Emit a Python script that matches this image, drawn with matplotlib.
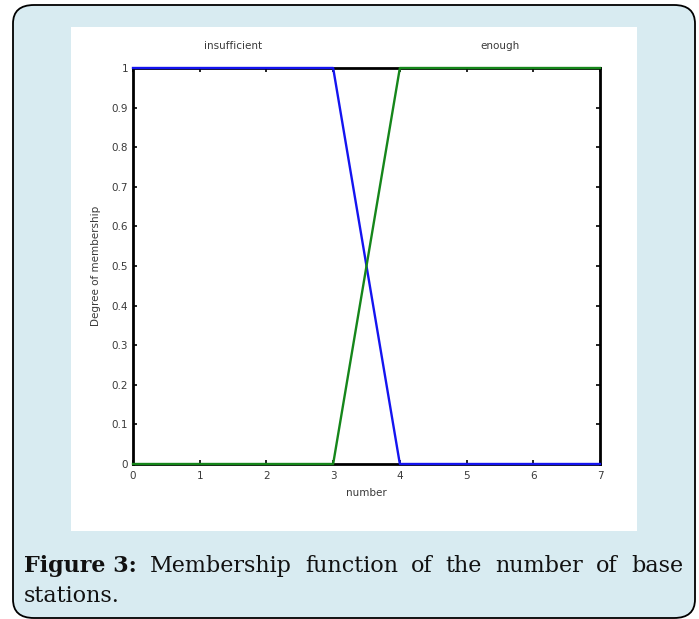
import matplotlib
matplotlib.use("Agg")
import matplotlib.pyplot as plt
from matplotlib.patches import FancyBboxPatch, Rectangle

# ---- data ----
x_insufficient = [0, 3, 4, 7]
y_insufficient = [1, 1, 0, 0]
x_enough = [0, 3, 4, 7]
y_enough = [0, 0, 1, 1]
mf_names = ["insufficient", "enough"]
mf_label_x = [1.5, 5.5]
x_ticks = [0, 1, 2, 3, 4, 5, 6, 7]
y_ticks = [0, 0.1, 0.2, 0.3, 0.4, 0.5, 0.6, 0.7, 0.8, 0.9, 1]
y_tick_labels = ["0", "0.1", "0.2", "0.3", "0.4", "0.5", "0.6", "0.7", "0.8", "0.9", "1"]
caption_bold = "Figure 3:"
caption_words = ["Membership", "function", "of", "the", "number", "of", "base"]
caption_line2 = "stations."

W, H = 699, 619
fig = plt.figure(figsize=(W / 100, H / 100), dpi=100)
fig.patch.set_facecolor("white")

def fx(px):
    return px / W

def fy(py):
    return 1 - py / H

# outer rounded box
bg = FancyBboxPatch((fx(13), fy(618)), fx(695) - fx(13), fy(5) - fy(618),
                    boxstyle="round,pad=0,rounding_size=0.03",
                    transform=fig.transFigure, facecolor="#d8ebf1",
                    edgecolor="black", linewidth=1.3, zorder=0)
fig.patches.append(bg)
# white inner panel
panel = Rectangle((fx(71), fy(531)), fx(637) - fx(71), fy(27) - fy(531),
                  transform=fig.transFigure, facecolor="white",
                  edgecolor="none", zorder=1)
fig.patches.append(panel)

lab_fs = 7.5
lab_col = "#3a3a3a"
ax = fig.add_axes([fx(133), fy(464), fx(600) - fx(133), fy(68) - fy(464)])
ax.set_zorder(2)
ax.set_facecolor("white")
ax.plot(x_insufficient, y_insufficient, color="#1414f0", lw=1.7, clip_on=False, zorder=3)
ax.plot(x_enough, y_enough, color="#15861a", lw=1.7, clip_on=False, zorder=4)
ax.set_xlim(0, 7)
ax.set_ylim(0, 1)
ax.set_xticks(x_ticks)
ax.set_xticklabels([str(v) for v in x_ticks])
ax.set_yticks(y_ticks)
ax.set_yticklabels(y_tick_labels)
ax.tick_params(direction="in", length=3, width=1.2, top=True, right=True,
               labelsize=lab_fs, labelcolor=lab_col)
ax.tick_params(axis="x", pad=5)
ax.tick_params(axis="y", pad=3.5)
for s in ax.spines.values():
    s.set_linewidth(2.0)
    s.set_color("black")
ax.set_xlabel("number", fontsize=lab_fs, color=lab_col, labelpad=5)
ax.set_ylabel("Degree of membership", fontsize=lab_fs, color=lab_col, labelpad=8)
for name, xm in zip(mf_names, mf_label_x):
    ax.text(xm, 1.055, name, ha="center", va="center", fontsize=lab_fs,
            color=lab_col, transform=ax.get_xaxis_transform())

# caption, justified first line
fig.canvas.draw()
r = fig.canvas.get_renderer()
fs = 16
texts = []
t = fig.text(0, fy(572), caption_bold, fontsize=fs, fontweight="bold",
             family="DejaVu Serif", color="#111111", va="baseline")
texts.append(t)
for w in caption_words:
    texts.append(fig.text(0, fy(572), w, fontsize=fs, family="DejaVu Serif",
                          color="#111111", va="baseline"))
widths = [tt.get_window_extent(r).width for tt in texts]
left, right = 24, 683
gap = (right - left - sum(widths)) / (len(texts) - 1)
xpos = left
for tt, wd in zip(texts, widths):
    tt.set_x(fx(xpos))
    xpos += wd + gap
fig.text(fx(24), fy(602), caption_line2, fontsize=fs, family="DejaVu Serif",
         color="#111111", va="baseline")

fig.savefig("out.png", dpi=100, facecolor=fig.get_facecolor())
